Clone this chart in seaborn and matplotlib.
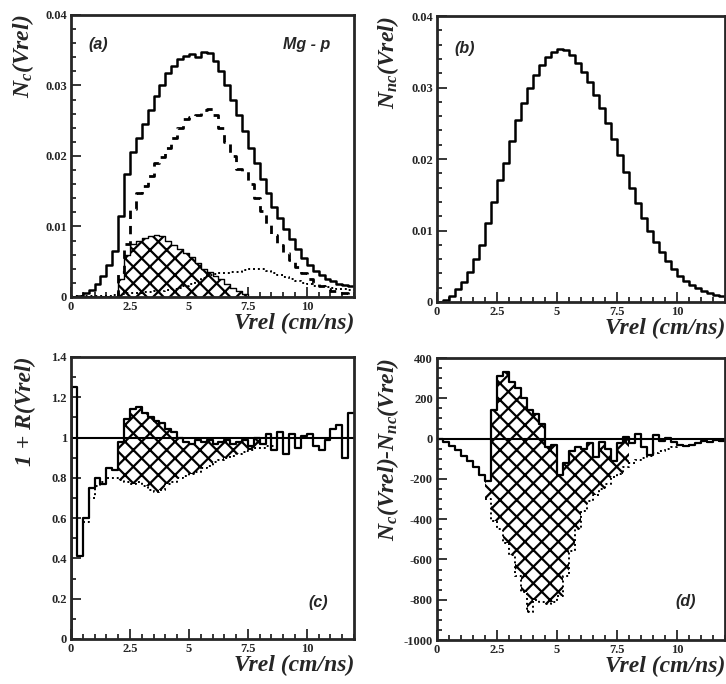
import numpy as np
import matplotlib
matplotlib.use("Agg")
import matplotlib.pyplot as plt
from matplotlib.ticker import MultipleLocator, FuncFormatter
import seaborn as sns

# bin edges: 0 .. 12 cm/ns in 0.25 steps (48 bins)
EDGES = np.arange(0, 12.001, 0.25)

# (a) correlated distribution and its components
NC_TOTAL = [0.0, 0.0002, 0.0005, 0.001, 0.0018, 0.003, 0.0045, 0.0065,
            0.0115, 0.0175, 0.0205, 0.0225, 0.0245, 0.0265, 0.0285, 0.0300,
            0.0318, 0.0328, 0.0338, 0.0342, 0.0345, 0.0340, 0.0348, 0.0346,
            0.0335, 0.0320, 0.0300, 0.0280, 0.0258, 0.0235, 0.0212, 0.0190,
            0.0168, 0.0148, 0.0128, 0.0112, 0.0096, 0.0082, 0.0068, 0.0056,
            0.0045, 0.0037, 0.0031, 0.0026, 0.0022, 0.0019, 0.0017, 0.0015]
NC_DASHED = [0, 0, 0, 0, 0, 0, 0, 0,
             0.0035, 0.0075, 0.0125, 0.0148, 0.0158, 0.0172, 0.0190, 0.0198,
             0.0212, 0.0225, 0.0240, 0.0252, 0.0256, 0.0258, 0.0265, 0.0267,
             0.0258, 0.0240, 0.0220, 0.0200, 0.0182, 0.0178, 0.0160, 0.0140,
             0.0122, 0.0104, 0.0088, 0.0074, 0.0062, 0.0052, 0.0042, 0.0034,
             0.0026, 0.0020, 0.0015, 0.0011, 0.0008, 0.0006, 0.0005, 0.0004]
NC_HATCHED = [0, 0, 0, 0, 0, 0, 0, 0,
              0.0025, 0.0060, 0.0075, 0.0080, 0.0084, 0.0087, 0.0088, 0.0086,
              0.0080, 0.0074, 0.0068, 0.0063, 0.0057, 0.0048, 0.0040, 0.0036,
              0.0030, 0.0025, 0.0019, 0.0013, 0.0008, 0.0004, 0, 0,
              0, 0, 0, 0, 0, 0, 0, 0,
              0, 0, 0, 0, 0, 0, 0, 0]
NC_DOTTED = [0.0001, 0.0001, 0.0001, 0.0001, 0.0001, 0.0001, 0.0002, 0.0003,
             0.0004, 0.0005, 0.0006, 0.0006, 0.0007, 0.0007, 0.0008, 0.0009,
             0.0010, 0.0011, 0.0013, 0.0015, 0.0018, 0.0022, 0.0027, 0.0031,
             0.0033, 0.0034, 0.0034, 0.0035, 0.0036, 0.0038, 0.0039, 0.0040,
             0.0039, 0.0037, 0.0034, 0.0031, 0.0028, 0.0025, 0.0022, 0.0020,
             0.0018, 0.0016, 0.0015, 0.0014, 0.0013, 0.0012, 0.0011, 0.0010]

# (b) uncorrelated distribution
NNC = [0.0000, 0.0003, 0.0008, 0.0018, 0.0028, 0.0042, 0.0060, 0.0080,
       0.0110, 0.0140, 0.0170, 0.0195, 0.0225, 0.0255, 0.0278, 0.0300,
       0.0318, 0.0332, 0.0343, 0.0350, 0.0354, 0.0352, 0.0346, 0.0335,
       0.0322, 0.0308, 0.0290, 0.0272, 0.0250, 0.0228, 0.0205, 0.0182,
       0.0160, 0.0138, 0.0118, 0.0100, 0.0084, 0.0070, 0.0057, 0.0046,
       0.0037, 0.0030, 0.0024, 0.0019, 0.0015, 0.0012, 0.0010, 0.0008]

# (c) correlation function 1 + R and lower (dotted) curve
RATIO = [1.25, 0.41, 0.60, 0.75, 0.80, 0.77, 0.85, 0.84,
         0.98, 1.09, 1.14, 1.15, 1.12, 1.10, 1.08, 1.07,
         1.04, 1.03, 1.00, 0.98, 0.97, 0.99, 0.98, 0.99,
         0.97, 0.98, 0.99, 0.97, 0.98, 0.99, 0.96, 1.00,
         0.97, 1.02, 0.94, 1.03, 0.92, 1.02, 0.95, 1.01,
         1.02, 0.96, 0.94, 0.99, 1.04, 1.06, 0.90, 1.12]
RATIO_LOW = [np.nan, np.nan, 0.58, 0.70, 0.76, 0.78, 0.80, 0.80,
             0.79, 0.78, 0.77, 0.78, 0.76, 0.74, 0.73, 0.74,
             0.77, 0.78, 0.80, 0.81, 0.82, 0.83, 0.85, 0.86,
             0.88, 0.89, 0.90, 0.91, 0.92, 0.93, 0.94, 0.95,
             0.95, 0.96, 0.96, 0.97, np.nan, np.nan, np.nan, np.nan,
             np.nan, np.nan, np.nan, np.nan, np.nan, np.nan, np.nan, np.nan]

# (d) difference N_c - N_nc and lower (dotted) curve
DIFF = [0, -15, -35, -55, -85, -110, -140, -180,
        -210, 140, 310, 330, 280, 250, 200, 140,
        120, 70, -40, -30, -180, -120, -60, -40,
        -50, -20, -90, -15, -50, -110, -20, 10,
        -20, 25, -40, -80, 20, -10, 5, -15,
        -30, -35, -30, -20, -10, -15, -5, -10]
DIFF_LOW = [np.nan, np.nan, np.nan, np.nan, np.nan, np.nan, np.nan, np.nan,
            -300, -410, -450, -520, -580, -680, -760, -860,
            -800, -810, -820, -810, -780, -680, -560, -450,
            -360, -310, -280, -250, -225, -190, -175, -140,
            -120, -105, -95, -85, -70, -60, -50, -40,
            -35, np.nan, np.nan, np.nan, np.nan, np.nan, np.nan, np.nan]

HATCH_FROM, HATCH_TO = 8, 31   # bins covered by the hatched band in (c), (d)

sns.set_style("ticks")
plt.rcParams["font.family"] = ["Liberation Serif", "DejaVu Serif"]
plt.rcParams["font.weight"] = "bold"
plt.rcParams["mathtext.fontset"] = "custom"
plt.rcParams["mathtext.it"] = "Liberation Serif:italic:bold"
plt.rcParams["mathtext.rm"] = "Liberation Serif:bold"
plt.rcParams["hatch.linewidth"] = 1.6
plt.rcParams["axes.linewidth"] = 2.0


def steps(vals):
    v = list(vals)
    return v + [v[-1]]


def draw_step(ax, vals, **kw):
    sns.lineplot(x=EDGES, y=steps(vals), drawstyle="steps-post", ax=ax,
                 estimator=None, sort=False, color="black", **kw)


def hatch_band(ax, top, low):
    sl = slice(HATCH_FROM, HATCH_TO + 2)
    x = EDGES[sl]
    t = np.array(steps(top))[sl]
    b = np.array(steps(low))[sl]
    ax.fill_between(x, b, t, step="post", facecolor="white", edgecolor="black",
                    hatch="xx", linewidth=0)


def style_axis(ax, ylim, ymajor, yminor, ylabel):
    ax.set_xlim(0, 12)
    ax.set_ylim(*ylim)
    ax.xaxis.set_major_locator(MultipleLocator(2.5))
    ax.xaxis.set_minor_locator(MultipleLocator(0.5))
    ax.yaxis.set_major_locator(MultipleLocator(ymajor))
    ax.yaxis.set_minor_locator(MultipleLocator(yminor))
    fmt = FuncFormatter(lambda v, p: f"{v:g}")
    ax.xaxis.set_major_formatter(fmt)
    ax.yaxis.set_major_formatter(fmt)
    ax.tick_params(which="both", direction="in", top=False, right=False,
                   labelsize=9, width=1.3, pad=3)
    ax.tick_params(which="major", length=7)
    ax.tick_params(which="minor", length=3.5)
    ax.set_xlabel("Vrel (cm/ns)", fontsize=17, fontstyle="italic",
                  fontweight="bold", loc="right", labelpad=0)
    ax.set_ylabel(ylabel, fontsize=17, fontstyle="italic",
                  fontweight="bold", loc="top")
    ax.yaxis.set_label_coords(-0.125, 1.0)
    for s in ax.spines.values():
        s.set_visible(True)
        s.set_linewidth(2.0)


def tag(ax, x, y, text, ha="left"):
    ax.text(x, y, text, transform=ax.transAxes, ha=ha, va="center",
            fontsize=11.5, fontweight="bold", fontstyle="italic",
            family=["Liberation Sans", "DejaVu Sans"])


fig = plt.figure(figsize=(7.26, 6.84), dpi=100)
ax_a = fig.add_axes([0.0978, 0.5658, 0.3898, 0.4123])
ax_b = fig.add_axes([0.6019, 0.5585, 0.3967, 0.4180])
ax_c = fig.add_axes([0.0978, 0.0658, 0.3898, 0.4123])
ax_d = fig.add_axes([0.6019, 0.0643, 0.3967, 0.4123])

# (a)
ax_a.fill_between(EDGES, 0, steps(NC_HATCHED), step="post", facecolor="white",
                  edgecolor="black", hatch="xx", linewidth=1.0)
draw_step(ax_a, NC_DOTTED, linestyle=(0, (1, 1.5)), linewidth=1.4)
draw_step(ax_a, NC_DASHED, linestyle=(0, (3, 2.5)), linewidth=2.0)
draw_step(ax_a, NC_TOTAL, linewidth=1.8)
style_axis(ax_a, (0, 0.04), 0.01, 0.002, r"$N_c$(Vrel)")
tag(ax_a, 0.06, 0.894, "(a)")
tag(ax_a, 0.915, 0.894, "Mg - p", ha="right")

# (b)
draw_step(ax_b, NNC, linewidth=1.8)
style_axis(ax_b, (0, 0.04), 0.01, 0.002, r"$N_{nc}$(Vrel)")
tag(ax_b, 0.06, 0.885, "(b)")

# (c)
hatch_band(ax_c, RATIO, RATIO_LOW)
ax_c.axhline(1.0, color="black", linewidth=1.5)
draw_step(ax_c, RATIO_LOW, linestyle=(0, (1, 1.5)), linewidth=1.4)
ax_c.vlines(0, 0, RATIO[0], color="black", linewidth=1.8)
draw_step(ax_c, RATIO, linewidth=1.6)
style_axis(ax_c, (0, 1.4), 0.2, 0.1, "1 + R(Vrel)")
tag(ax_c, 0.873, 0.131, "(c)", ha="center")

# (d)
hatch_band(ax_d, DIFF, DIFF_LOW)
ax_d.axhline(0.0, color="black", linewidth=1.5)
draw_step(ax_d, DIFF_LOW, linestyle=(0, (1, 1.5)), linewidth=1.4)
draw_step(ax_d, DIFF, linewidth=1.6)
style_axis(ax_d, (-1000, 400), 200, 50, r"$N_c$(Vrel)-$N_{nc}$(Vrel)")
tag(ax_d, 0.865, 0.135, "(d)", ha="center")

fig.savefig("out.png", dpi=100)
plt.close(fig)
